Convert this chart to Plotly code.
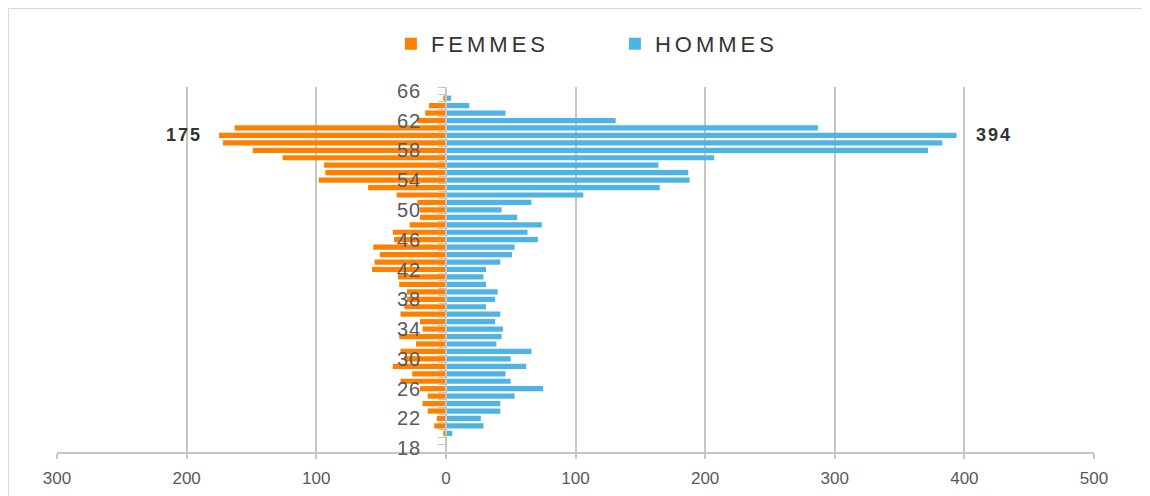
import plotly.graph_objects as go

ages = list(range(20, 66))
hommes = [5, 29, 27, 42, 42, 53, 75, 50, 46, 62,
          50, 66, 39, 43, 44, 38, 42, 31, 38, 40,
          31, 29, 31, 42, 51, 53, 71, 63, 74, 55,
          43, 66, 106, 165, 188, 187, 164, 207, 372, 383,
          394, 287, 131, 46, 18, 4]
femmes = [2, 9, 7, 14, 18, 14, 20, 35, 26, 41,
          32, 35, 23, 36, 18, 20, 35, 32, 30, 30,
          36, 37, 57, 55, 51, 56, 40, 41, 28, 20,
          20, 22, 38, 60, 98, 93, 94, 126, 149, 172,
          175, 163, 22, 16, 13, 2]
age_ticks = list(range(18, 67, 4))
x_ticks = [-300, -200, -100, 0, 100, 200, 300, 400, 500]
x_ticktext = ["300", "200", "100", "0", "100", "200", "300", "400", "500"]

ORANGE = "#FF8000"
BLUE = "#4FB3E5"
GRID = "#C6C6C6"
TXT = "#595959"
FONT = "Liberation Sans"

def spaced(s, px):
    return '<span style="letter-spacing:%dpx">%s</span>' % (px, s)

fig = go.Figure()
fig.add_trace(go.Bar(y=ages, x=[-v for v in femmes], orientation="h",
                     name=spaced("FEMMES", 4), marker=dict(color=ORANGE, line=dict(width=0)),
                     hoverinfo="skip"))
fig.add_trace(go.Bar(y=ages, x=hommes, orientation="h",
                     name=spaced("HOMMES", 4), marker=dict(color=BLUE, line=dict(width=0)),
                     hoverinfo="skip"))

# data labels on the largest bars
fi = femmes.index(max(femmes))
hi = hommes.index(max(hommes))
fig.add_annotation(x=-femmes[fi], y=ages[fi], text="<b>%s</b>" % spaced(str(femmes[fi]), 2),
                   showarrow=False, xanchor="right", xshift=-15,
                   font=dict(size=18, color="#333333", family=FONT))
fig.add_annotation(x=hommes[hi], y=ages[hi], text="<b>%s</b>" % spaced(str(hommes[hi]), 2),
                   showarrow=False, xanchor="left", xshift=17,
                   font=dict(size=18, color="#333333", family=FONT))

# chart border
fig.add_shape(type="rect", xref="paper", yref="paper",
              x0=-0.0468, x1=1.0468, y0=-0.3, y1=1.2150,
              line=dict(color="#D9D9D9", width=1), fillcolor="rgba(0,0,0,0)",
              layer="below")

fig.update_layout(
    width=1150, height=496,
    margin=dict(l=49, r=64, t=79, b=52),
    paper_bgcolor="white", plot_bgcolor="white",
    barmode="relative", bargap=0.3,
    font=dict(family=FONT, color=TXT),
    showlegend=True,
    legend=dict(orientation="h", x=0.322, xanchor="left", y=1.118, yanchor="middle",
                font=dict(size=22, color="#333333", family=FONT),
                entrywidth=179, entrywidthmode="pixels", itemwidth=30,
                traceorder="normal"),
    xaxis=dict(range=[-300, 500], tickvals=x_ticks, ticktext=x_ticktext,
               showgrid=True, gridcolor=GRID, gridwidth=1.5,
               zeroline=False, showline=True, linecolor=GRID, linewidth=1.5,
               ticks="outside", ticklen=5, tickcolor=GRID, tickwidth=1.5,
               ticklabelstandoff=5,
               tickfont=dict(size=17, color=TXT, family=FONT),
               fixedrange=True),
    yaxis=dict(range=[17.5, 66.5], tickvals=age_ticks,
               ticktext=[spaced(str(a), 1) for a in age_ticks],
               anchor="free", position=0.375,
               showgrid=False, zeroline=False, showline=True,
               linecolor=GRID, linewidth=1.5,
               ticks="", ticklabelstandoff=20,
               minor=dict(ticks="outside", tick0=17.5, dtick=1, ticklen=7,
                          tickcolor=GRID, tickwidth=1, showgrid=False),
               tickfont=dict(size=20, color=TXT, family=FONT),
               fixedrange=True),
)

fig.write_html("out.html")
